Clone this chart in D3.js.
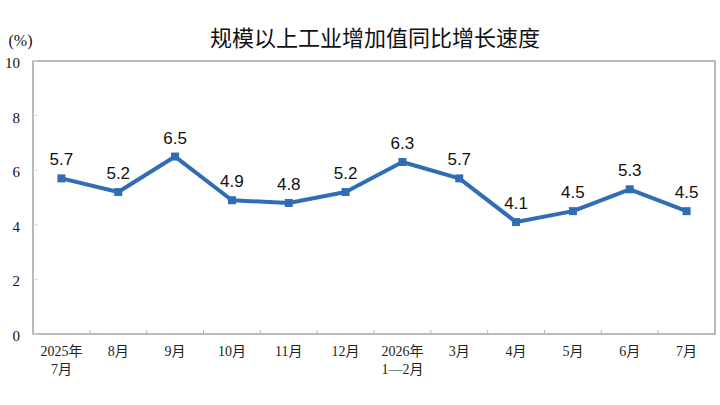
<!DOCTYPE html>
<html>
<head>
<meta charset="utf-8">
<script src="https://cdn.jsdelivr.net/npm/d3@7"></script>
<style>
body{margin:0;background:#fff;}
</style>
</head>
<body>
<script>
// data
var yue=["2025年|7月","8月","9月","10月","11月","12月","2026年|1—2月","3月","4月","5月","6月","7月"];
var zengsu=[5.7,5.2,6.5,4.9,4.8,5.2,6.3,5.7,4.1,4.5,5.3,4.5];
var yKe=[0,2,4,6,8,10];

var W=720,H=405;
var zuo=33,you=715,shang=61,xia=334;

var svg=d3.select("body").append("svg").attr("width",W).attr("height",H);

var x=d3.scaleBand().domain(d3.range(yue.length)).range([zuo,you]);
var y=d3.scaleLinear().domain([0,10]).range([xia,shang]);

// title
svg.append("text").attr("x",375).attr("y",46)
	.attr("text-anchor","middle")
	.style("font-family","'Noto Sans CJK SC'")
	.style("font-size","22px")
	.style("font-weight","400")
	.style("fill","#111")
	.text("规模以上工业增加值同比增长速度");

svg.append("text").attr("x",20.5).attr("y",46)
	.attr("text-anchor","middle")
	.style("font-family","'Liberation Serif'")
	.style("font-size","16px")
	.style("fill","#111")
	.text("(%)");

// frame
svg.append("rect").attr("x",zuo).attr("y",shang)
	.attr("width",you-zuo).attr("height",xia-shang)
	.style("fill","none").style("stroke","#959595").style("stroke-width",1.3);

// y ticks
var osY=svg.append("g");
yKe.forEach(function(v){
	osY.append("line").attr("x1",zuo).attr("x2",zuo+5)
		.attr("y1",y(v)).attr("y2",y(v))
		.style("stroke","#d8d8d8");
	osY.append("text").attr("x",20).attr("y",y(v)+7)
		.attr("text-anchor","end")
		.style("font-family","'Liberation Serif'")
		.style("font-size","15px")
		.style("fill","#111")
		.text(v);
});

// x ticks between bands
for(var i=1;i<yue.length;i++){
	svg.append("line")
		.attr("x1",x(i)).attr("x2",x(i))
		.attr("y1",xia).attr("y2",xia-4)
		.style("stroke","#bbbbbb");
}
yue.forEach(function(t,i){
	var czesci=t.split("|");
	var tx=svg.append("text").attr("text-anchor","middle")
		.style("font-family","'Liberation Serif','Noto Sans CJK SC'")
		.style("font-size","14px")
		.style("fill","#222");
	czesci.forEach(function(c,k){
		tx.append("tspan").attr("x",x(i)+x.bandwidth()/2)
			.attr("y",356+k*18).text(c);
	});
});

// line
var linia=d3.line()
	.x(function(d,i){return x(i)+x.bandwidth()/2;})
	.y(function(d){return y(d);});
svg.append("path").datum(zengsu)
	.attr("d",linia)
	.style("fill","none")
	.style("stroke","#2f6db5")
	.style("stroke-width",4)
	.style("stroke-linejoin","round");

svg.selectAll(".pkt").data(zengsu).enter().append("rect")
	.attr("x",function(d,i){return x(i)+x.bandwidth()/2-4;})
	.attr("y",function(d){return y(d)-4;})
	.attr("width",8).attr("height",8)
	.style("fill","#2f6db5");

svg.selectAll(".et").data(zengsu).enter().append("text")
	.attr("x",function(d,i){return x(i)+x.bandwidth()/2;})
	.attr("y",function(d){return y(d)-13;})
	.attr("text-anchor","middle")
	.style("font-family","'Liberation Sans'")
	.style("font-size","17px")
	.style("fill","#111")
	.text(function(d){return d.toFixed(1);});
</script>
</body>
</html>
